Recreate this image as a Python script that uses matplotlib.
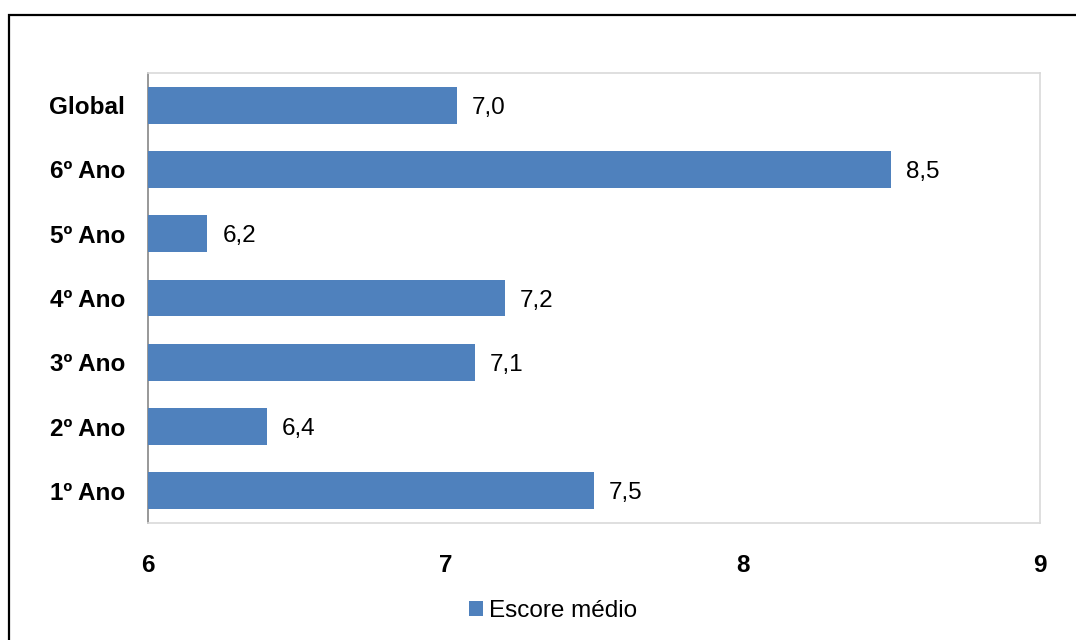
import matplotlib
matplotlib.use("Agg")
import matplotlib.pyplot as plt
from matplotlib.patches import Rectangle, Patch

categories = ["1º Ano", "2º Ano", "3º Ano", "4º Ano", "5º Ano", "6º Ano", "Global"]
values = [7.5, 6.4, 7.1, 7.2, 6.2, 8.5, 7.04]
labels = ["7,5", "6,4", "7,1", "7,2", "6,2", "8,5", "7,0"]
xticks = [6, 7, 8, 9]
series_name = "Escore médio"
color = "#4F81BD"

plt.rcParams['font.family'] = ['Liberation Sans', 'DejaVu Sans']
fs = 17.5

fig = plt.figure(figsize=(10.76, 6.4), dpi=100)
ax = fig.add_axes([148/1076, 117/640, 892/1076, 450/640])

y = list(range(len(categories)))
ax.barh(y, [v - 6 for v in values], left=6, height=0.575, color=color, zorder=3)
ax.set_xlim(6, 9)
ax.set_ylim(-0.5, len(categories) - 0.5)
ax.set_yticks(y)
ax.set_yticklabels(categories, fontsize=fs, fontweight='bold')
ax.set_xticks(xticks)
ax.set_xticklabels([str(t) for t in xticks], fontsize=fs, fontweight='bold')
ax.tick_params(axis='y', length=0, pad=16.5)
ax.tick_params(axis='x', length=0, pad=22)

for s in ['top', 'right', 'bottom']:
    ax.spines[s].set_color('#d9d9d9')
    ax.spines[s].set_linewidth(1.2)
ax.spines['left'].set_color('#868686')
ax.spines['left'].set_linewidth(1.2)

for yi, v, lab in zip(y, values, labels):
    ax.annotate(lab, xy=(v, yi), xytext=(15 * 72 / 100, 0), textcoords='offset points',
                va='center_baseline', ha='left', fontsize=fs)

handle = Patch(facecolor=color, edgecolor='none')
fig.legend([handle], [series_name], loc='center', bbox_to_anchor=(553/1076, 1 - 611/640),
           frameon=False, fontsize=fs, handlelength=0.55, handleheight=0.55,
           handletextpad=0.25, borderpad=0)

# outer frame (top and left visible)
fig.patches.append(Rectangle((9/1076, -0.2), 1.2, 0.2 + 1 - 15/640, transform=fig.transFigure,
                             fill=False, edgecolor='black', linewidth=1.6, clip_on=False))

fig.savefig("out.png", dpi=100)
